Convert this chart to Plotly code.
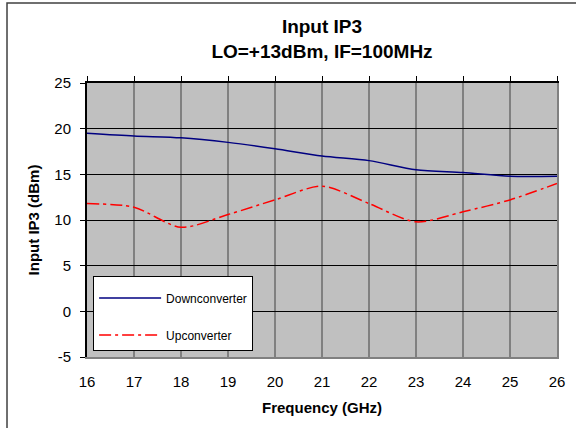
import plotly.graph_objects as go

freq_ghz = [16, 17, 18, 19, 20, 21, 22, 23, 24, 25, 26]
downconverter = [19.5, 19.2, 19.0, 18.5, 17.8, 17.0, 16.5, 15.5, 15.2, 14.8, 14.8]
upconverter = [11.8, 11.4, 9.2, 10.6, 12.2, 13.7, 11.8, 9.8, 10.9, 12.2, 14.0]

x_ticks = list(range(16, 27))
y_ticks = list(range(-5, 26, 5))
y_tick_text = [str(v).replace("\u2212", "-") for v in y_ticks]

FONT = "Arial, Liberation Sans, sans-serif"

fig = go.Figure()
fig.add_trace(go.Scatter(
    x=freq_ghz, y=downconverter, name="Downconverter", mode="lines",
    line=dict(color="#000080", width=1.5, shape="spline", smoothing=0.8),
    legendgroup="a"))
fig.add_trace(go.Scatter(
    x=freq_ghz, y=upconverter, name="Upconverter", mode="lines",
    line=dict(color="#FF0000", width=1.5, shape="spline", smoothing=0.8,
              dash="12px,4px,3px,4px"),
    legendgroup="b"))
# helper trace to bind the top / right axes
fig.add_trace(go.Scatter(x=[freq_ghz[0]], y=[None], xaxis="x2", yaxis="y2",
                         showlegend=False, hoverinfo="skip", mode="lines"))

fig.update_layout(
    width=576, height=428,
    margin=dict(l=87, r=19, t=83, b=71),
    paper_bgcolor="white", plot_bgcolor="#C0C0C0",
    font=dict(family=FONT, color="black", size=15),
    title=dict(text="<b>Input IP3<br>LO=+13dBm, IF=100MHz</b>",
               font=dict(family=FONT, size=19, color="black"),
               x=0.5, xref="paper", xanchor="center",
               y=0.922, yref="container", yanchor="top"),
    xaxis=dict(range=[16, 26], tickvals=x_ticks, showgrid=True,
               gridcolor="#808080", gridwidth=2, showline=True,
               linecolor="#808080", linewidth=2, ticks="", zeroline=False,
               tickfont=dict(size=15), ticklabelstandoff=10,
               title=dict(text="<b>Frequency (GHz)</b>", font=dict(size=15), standoff=13)),
    xaxis2=dict(range=[16, 26], tickvals=x_ticks, overlaying="x", side="top",
                showgrid=False, showline=True, linecolor="black", linewidth=2,
                ticks="outside", ticklen=5, tickcolor="black", tickwidth=1,
                showticklabels=False, zeroline=False),
    yaxis=dict(range=[-5, 25], tickvals=y_ticks, ticktext=y_tick_text,
               showgrid=True, gridcolor="black", gridwidth=1, showline=True,
               linecolor="black", linewidth=2, ticks="outside", ticklen=5,
               tickcolor="black", zeroline=False, tickfont=dict(size=15),
               ticklabelstandoff=6,
               title=dict(text="<b>Input IP3 (dBm)</b>", font=dict(size=15), standoff=11)),
    yaxis2=dict(range=[-5, 25], overlaying="y", side="right", showgrid=False,
                showline=True, linecolor="#808080", linewidth=2, ticks="",
                showticklabels=False, zeroline=False),
    legend=dict(x=0.013, y=0.296, xanchor="left", yanchor="top",
                bgcolor="white", bordercolor="black", borderwidth=1,
                font=dict(size=12, family=FONT), itemwidth=62,
                tracegroupgap=18, traceorder="grouped",
                title=dict(text=" ", font=dict(size=5))),
    shapes=[dict(type="rect", xref="paper", yref="paper",
                 x0=-0.1702, x1=1.06, y0=-0.28, y1=1.292,
                 line=dict(color="#404040", width=1.5), layer="below")],
)

fig.write_html("out.html", post_script="document.body.style.margin='0px';",
               config={"displayModeBar": False})
